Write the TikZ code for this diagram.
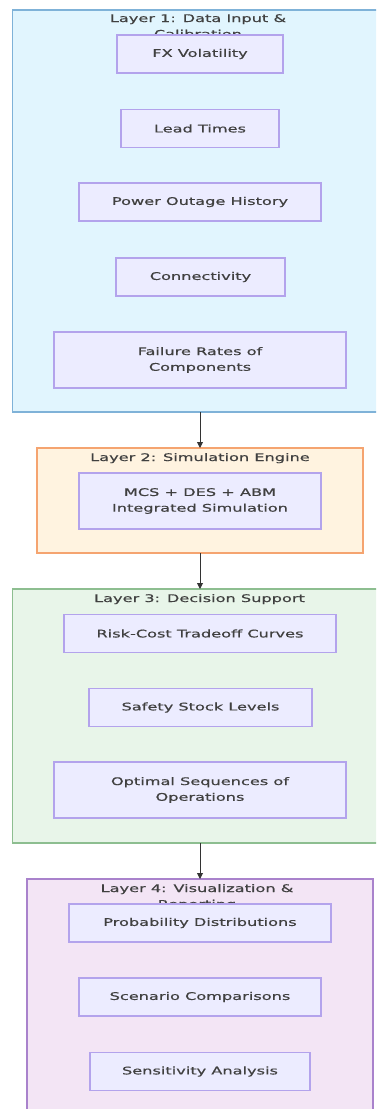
\documentclass[tikz,border=0pt]{standalone}
\usepackage{fontspec}
\setmainfont[FakeStretch=1.54, FakeBold=0.6]{DejaVu Sans}
\usetikzlibrary{arrows.meta}
\definecolor{txt}{HTML}{404040}
\definecolor{nodefill}{HTML}{ECECFF}
\definecolor{nodeline}{HTML}{B3A3EC}
\definecolor{lafill}{HTML}{E1F5FE}
\definecolor{laline}{HTML}{7FB2D8}
\definecolor{lbfill}{HTML}{FFF3E0}
\definecolor{lbline}{HTML}{F5A470}
\definecolor{lcfill}{HTML}{E8F5E9}
\definecolor{lcline}{HTML}{8DBE90}
\definecolor{ldfill}{HTML}{F3E5F5}
\definecolor{ldline}{HTML}{A982CC}
\definecolor{arrowc}{HTML}{333333}
\tikzset{
  lbl/.style={font=\fontsize{10.5}{15.7}\selectfont, text=txt, inner sep=0pt},
  item/.style={lbl, draw=nodeline, fill=nodefill, line width=1.3pt, align=center, minimum height=#1},
  item/.default=38pt,
  layer/.style={line width=1.4pt},
  flow/.style={draw=arrowc, line width=0.9pt, -{Triangle[length=6pt,width=6pt]}}
}
\begin{document}
\begin{tikzpicture}[x=1pt,y=-1pt]
\useasboundingbox (0,0) rectangle (376,1109);
\clip (0,0) rectangle (376,1109);

% Layer frames
\draw[layer, draw=laline, fill=lafill] (12.5,10) rectangle (386,412);
\draw[layer, draw=lbline, fill=lbfill] (37,448) rectangle (363,553);
\draw[layer, draw=lcline, fill=lcfill] (12.5,589) rectangle (388,843);
\draw[layer, draw=ldline, fill=ldfill] (27,879) rectangle (373,1120);

% Layer 1: Data Input & Calibration
\node[lbl, anchor=base] (l1a) at (198,22) {Layer 1: Data Input \&};
\node[lbl, anchor=base] (l1b) at (198,37.7) {Calibration};
\node[item, minimum width=166pt] (fx) at (200,54) {FX Volatility};
\node[item, minimum width=158pt] (lead) at (200,128.5) {Lead Times};
\node[item, minimum width=242pt] (power) at (200,202) {Power Outage History};
\node[item, minimum width=169pt] (conn) at (200.5,277) {Connectivity};
\node[item=56pt, minimum width=292pt] (fail) at (200,360) {Failure Rates of\\Components};

% Layer 2: Simulation Engine
\node[lbl, anchor=base] (l2) at (200,461) {Layer 2: Simulation Engine};
\node[item=56pt, minimum width=242pt] (sim) at (200,501) {MCS + DES + ABM\\Integrated Simulation};

% Layer 3: Decision Support
\node[lbl, anchor=base] (l3) at (199.5,602) {Layer 3: Decision Support};
\node[item, minimum width=272pt] (risk) at (200,633.5) {Risk-Cost Tradeoff Curves};
\node[item, minimum width=223pt] (safety) at (200.5,707.5) {Safety Stock Levels};
\node[item=56pt, minimum width=292pt] (opt) at (200,790) {Optimal Sequences of\\Operations};

% Layer 4: Visualization & Reporting
\node[lbl, anchor=base] (l4a) at (197,892) {Layer 4: Visualization \&};
\node[lbl, anchor=base] (l4b) at (197,907.7) {Reporting};
\node[item, minimum width=262pt] (prob) at (200,923) {Probability Distributions};
\node[item, minimum width=242pt] (scen) at (200,997) {Scenario Comparisons};
\node[item, minimum width=220pt] (sens) at (200,1071.5) {Sensitivity Analysis};

% Links between layers
\coordinate (o1) at (200,412);
\coordinate (i2) at (200,448);
\coordinate (o2) at (200,553);
\coordinate (i3) at (200,589);
\coordinate (o3) at (200,843);
\coordinate (i4) at (200,879);
\draw[flow] (o1) -- (i2);
\draw[flow] (o2) -- (i3);
\draw[flow] (o3) -- (i4);
\end{tikzpicture}
\end{document}
